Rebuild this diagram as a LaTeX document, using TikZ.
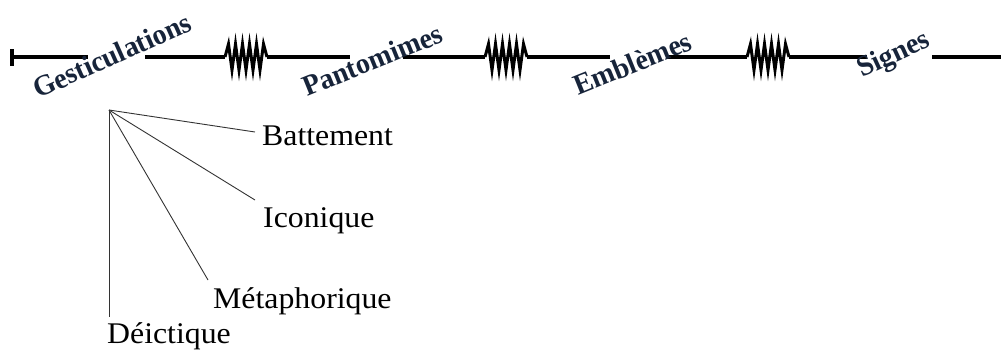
\documentclass[tikz,border=0pt]{standalone}
\usepackage{fontspec}
\setmainfont{Liberation Serif}
\newfontfamily\headfont[FakeStretch=0.97]{Liberation Serif}
\newfontfamily\lblfont[FakeStretch=1.06]{Liberation Serif}
\definecolor{navy}{HTML}{17243A}
\begin{document}
\begin{tikzpicture}[x=1pt,y=-1pt,
  axis/.style={line width=3.8pt,black},
  spring/.style={line width=3pt,black,line join=miter},
  head/.style={anchor=base west,inner sep=0pt,text=navy,font=\headfont\bfseries\fontsize{29}{31}\selectfont},
  lbl/.style={anchor=base west,inner sep=0pt,font=\lblfont\fontsize{30}{32}\selectfont},
  branch/.style={line width=0.9pt,black!80}]
\useasboundingbox (0,0) rectangle (1001,354);
% axis segments
\coordinate (s0) at (12,57);
\coordinate (e0) at (88,57);
\draw[line width=3.4pt] (12,49) -- (12,66);
\draw[axis] (s0) -- (e0);
\foreach \a/\b/\z in {145/350/225, 403/610/485, 667/867/747}{
  \draw[axis] (\a,57) -- (\z,57);
  \draw[axis] (\z+42,57) -- (\b,57);
  \draw[spring] (\z,57)
    \foreach \k in {1,...,11}{ -- ({\z+3.5*\k},{ifthenelse(mod(\k,2)==1,44,70)}) } -- (\z+42,57);
}
\draw[axis] (932,57) -- (1001,57);
% category labels
\node[head,rotate=24] (gest) at (38,99) {Gesticulations};
\node[head,rotate=22] (pant) at (307,97) {Pantomimes};
\node[head,rotate=22] (embl) at (578,96) {Emblèmes};
\node[head,rotate=25] (sign) at (862,78) {Signes};
% sub-types
\node[lbl] (batt) at (262,145) {Battement};
\node[lbl] (icon) at (263,227) {Iconique};
\node[lbl] (meta) at (213,308) {Métaphorique};
\node[lbl] (deic) at (107,343) {Déictique};
\coordinate (apex) at (109,110);
\coordinate (eB) at (255,132);
\coordinate (eI) at (255,200);
\coordinate (eM) at (208,280);
\coordinate (eD) at (109,317);
\draw[branch] (apex) -- (eB);
\draw[branch] (apex) -- (eI);
\draw[branch] (apex) -- (eM);
\draw[branch] (apex) -- (eD);
\end{tikzpicture}
\end{document}
